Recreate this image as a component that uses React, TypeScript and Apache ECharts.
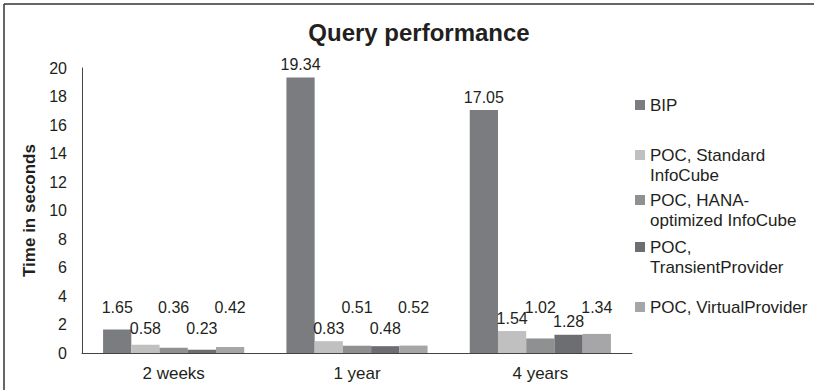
import React, { useEffect, useRef } from "react";
import * as echarts from "echarts";

const categories = ["2 weeks", "1 year", "4 years"];
const seriesNames = [
  "BIP",
  "POC, Standard\nInfoCube",
  "POC, HANA-\noptimized InfoCube",
  "POC,\nTransientProvider",
  "POC, VirtualProvider",
];
const bipValues = [1.65, 19.34, 17.05];
const standardValues = [0.58, 0.83, 1.54];
const hanaValues = [0.36, 0.51, 1.02];
const transientValues = [0.23, 0.48, 1.28];
const virtualValues = [0.42, 0.52, 1.34];
const yTicks = [0, 2, 4, 6, 8, 10, 12, 14, 16, 18, 20];

const allValues = [bipValues, standardValues, hanaValues, transientValues, virtualValues];
const colors = ["#7b7c7f", "#c0c0c1", "#8f9092", "#6d6e71", "#a6a6a8"];
const FONT = "'Liberation Sans', Arial, sans-serif";
const TXT = "#231f20";

const W = 814;
const H = 390;
const GRID_TOP = 68;
const GRID_BOTTOM = 37;
const GRID_LEFT = 82;
const GRID_RIGHT = 182;

// label levels (in value units) under which labels are lifted
const labelLevels = [3.19, 1.75, 3.19, 1.75, 3.19];
// legend item first-line centres
const legendCenters = [105, 155, 200, 247, 307];

export default function App() {
  const ref = useRef<HTMLDivElement>(null);
  useEffect(() => {
    if (!ref.current) return;
    const chart = echarts.init(ref.current, null, { renderer: "svg" });
    const yMax = yTicks[yTicks.length - 1];
    const ppu = (H - GRID_TOP - GRID_BOTTOM) / yMax;

    const series = allValues.map((vals, s) => ({
      type: "bar",
      name: seriesNames[s],
      barGap: "0%",
      barCategoryGap: "23%",
      itemStyle: { color: colors[s] },
      data: vals.map((v) => ({
        value: v,
        label: {
          distance: Math.max(5, (labelLevels[s] - v) * ppu - 8),
        },
      })),
      label: {
        show: true,
        position: "top",
        color: TXT,
        fontSize: 16,
        fontFamily: FONT,
        formatter: (p: any) => Number(p.value).toFixed(2),
      },
    }));

    const legends = seriesNames.map((name, i) => {
      const multi = name.indexOf("\n") >= 0;
      return {
        data: [name],
        orient: "vertical",
        left: 635,
        top: multi ? legendCenters[i] - 30 : legendCenters[i] - 10,
        padding: 0,
        icon: "rect",
        itemWidth: 10,
        itemHeight: 10,
        selectedMode: false,
        formatter: (n: string) => (multi ? "\n" + n : n),
        textStyle: {
          color: TXT,
          fontSize: 17,
          fontFamily: FONT,
          lineHeight: 20,
        },
      };
    });

    chart.setOption({
      animation: false,
      backgroundColor: "#ffffff",
      title: {
        text: "Query performance",
        left: 414,
        textAlign: "center",
        top: 15,
        textStyle: { fontSize: 24, fontWeight: "bold", color: TXT, fontFamily: FONT },
      },
      grid: { left: GRID_LEFT, right: GRID_RIGHT, top: GRID_TOP, bottom: GRID_BOTTOM },
      legend: legends,
      xAxis: {
        type: "category",
        data: categories,
        axisTick: { show: false },
        axisLine: { lineStyle: { color: "#444", width: 1 } },
        axisLabel: { color: TXT, fontSize: 17, fontFamily: FONT, margin: 12 },
      },
      yAxis: {
        type: "value",
        min: 0,
        max: yMax,
        interval: 2,
        name: "Time in seconds",
        nameLocation: "middle",
        nameGap: 39,
        nameTextStyle: { fontSize: 17, fontWeight: "bold", color: TXT, fontFamily: FONT },
        axisLine: { show: true, lineStyle: { color: "#444", width: 1 } },
        axisTick: { show: false },
        splitLine: { show: false },
        axisLabel: { color: TXT, fontSize: 16, fontFamily: FONT, margin: 15 },
      },
      graphic: [
        { type: "line", shape: { x1: 4, y1: 4, x2: 814, y2: 4 }, style: { stroke: "#333", lineWidth: 1.5 } },
        { type: "line", shape: { x1: 4, y1: 4, x2: 4, y2: 390 }, style: { stroke: "#333", lineWidth: 1.5 } },
      ],
      series,
    });
    return () => chart.dispose();
  }, []);
  return (
    <div
      ref={ref}
      style={{ position: "fixed", left: 0, top: 0, width: W, height: H, background: "#fff" }}
    />
  );
}
